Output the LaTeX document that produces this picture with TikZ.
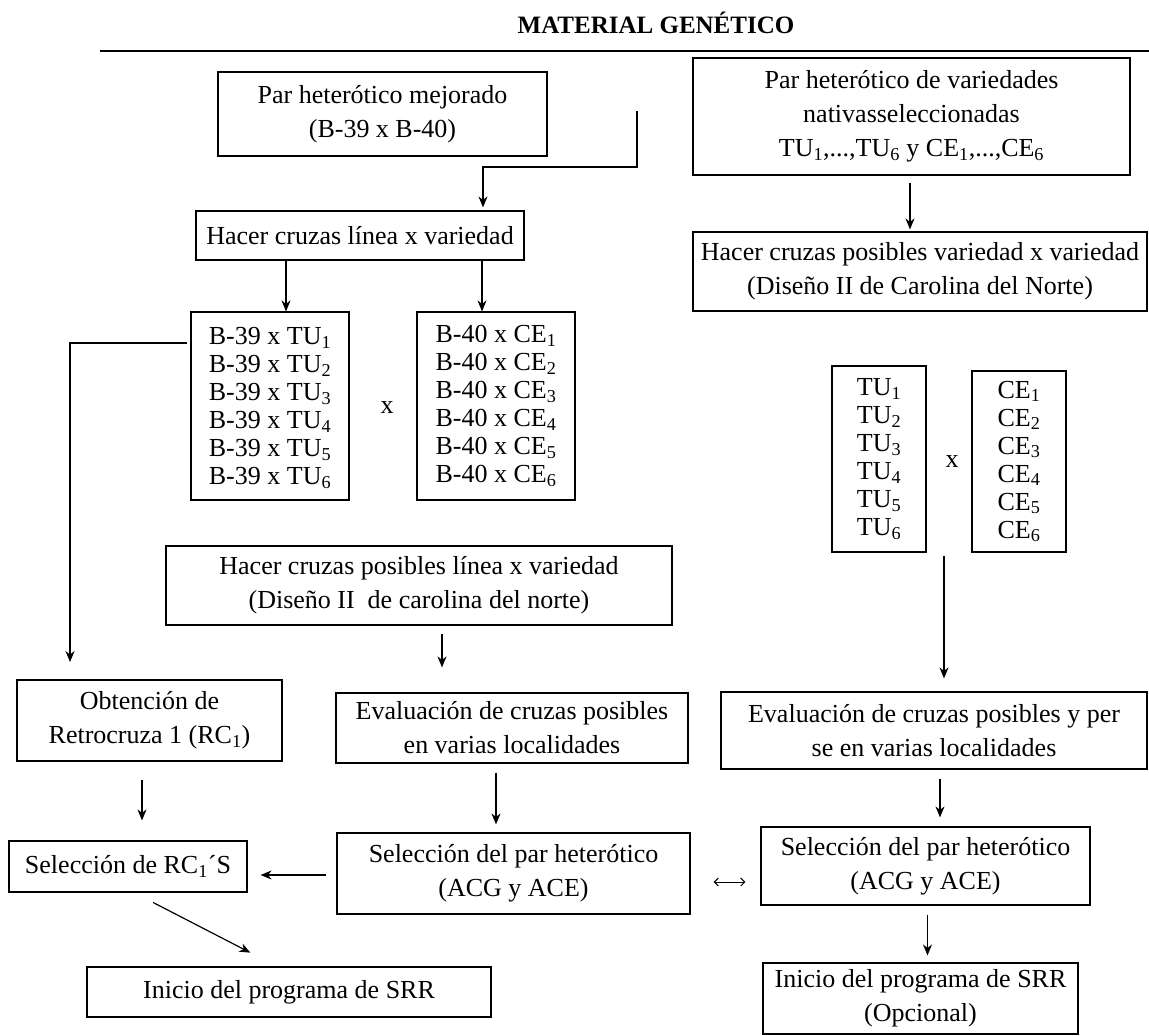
\documentclass[tikz,border=0pt]{standalone}
\usepackage{fontspec}
\setmainfont{Liberation Serif}
\usetikzlibrary{arrows.meta}

\begin{document}
\begin{tikzpicture}[x=1pt,y=-1pt,
  caja/.style={draw, line width=1.2pt, align=center, inner sep=0pt, font=\fontsize{26}{34}\selectfont},
  lista/.style={caja, align=left, font=\fontsize{26}{28}\selectfont},
  signo/.style={font=\fontsize{26}{28}\selectfont},
  flecha/.style={line width=1.2pt, -{Stealth[length=11pt,width=9pt]}},
  dobleflecha/.style={line width=1pt, {Straight Barb[length=4pt,width=8pt]}-{Straight Barb[length=4pt,width=8pt]}}]
\useasboundingbox (0,0) rectangle (1149,1036);
\node[font=\fontsize{25}{28}\selectfont\bfseries] (tit) at (656,23) {MATERIAL GENÉTICO};
\draw[line width=1.2pt] (100,51) -- (1149,51);
\node[caja, minimum width=329, minimum height=84] (pm) at (382.5,114) {Par heterótico mejorado\\(B-39 x B-40)};
\node[caja, minimum width=437, minimum height=117] (pn) at (911.5,116.5) {Par heterótico de variedades\\nativasseleccionadas\\TU\textsubscript{1},...,TU\textsubscript{6} y CE\textsubscript{1},...,CE\textsubscript{6}};
\node[caja, minimum width=328, minimum height=49] (hlv) at (360,235.5) {Hacer cruzas línea x variedad};
\node[caja, minimum width=454, minimum height=79] (hvv) at (920,271.5) {Hacer cruzas posibles variedad x variedad\\(Diseño II de Carolina del Norte)};
\coordinate (k1) at (637,111);
\coordinate (k2) at (483,167);
\draw[flecha, shorten >=3] (k1) |- (k2) -- (k2 |- hlv.north);
\draw[flecha, shorten <=7, shorten >=2] ([xshift=-1.5]pn.south) -- ([xshift=-1.5]pn.south |- hvv.north);
\node[lista, minimum width=158, minimum height=188, text depth=-12pt] (ltu) at (270,406) {B-39 x TU\textsubscript{1}\\B-39 x TU\textsubscript{2}\\B-39 x TU\textsubscript{3}\\B-39 x TU\textsubscript{4}\\B-39 x TU\textsubscript{5}\\B-39 x TU\textsubscript{6}};
\node[lista, minimum width=158, minimum height=188] (lce) at (496,406) {B-40 x CE\textsubscript{1}\\B-40 x CE\textsubscript{2}\\B-40 x CE\textsubscript{3}\\B-40 x CE\textsubscript{4}\\B-40 x CE\textsubscript{5}\\B-40 x CE\textsubscript{6}};
\node[signo] (x1) at (387,408) {x};
\draw[flecha] ([xshift=-74]hlv.south) -- ([xshift=-74]hlv.south |- ltu.north);
\draw[flecha] ([xshift=122]hlv.south) -- ([xshift=122]hlv.south |- lce.north);
\node[lista, minimum width=94, minimum height=186] (tu) at (879,459) {TU\textsubscript{1}\\TU\textsubscript{2}\\TU\textsubscript{3}\\TU\textsubscript{4}\\TU\textsubscript{5}\\TU\textsubscript{6}};
\node[lista, minimum width=94, minimum height=181] (ce) at (1019,461.5) {CE\textsubscript{1}\\CE\textsubscript{2}\\CE\textsubscript{3}\\CE\textsubscript{4}\\CE\textsubscript{5}\\CE\textsubscript{6}};
\node[signo] (x2) at (952,462) {x};
\node[caja, minimum width=506, minimum height=79] (hplv) at (419,585.5) {Hacer cruzas posibles línea x variedad\\(Diseño II\ \ de carolina del norte)};
\node[caja, minimum width=265, minimum height=81] (rc1) at (149.5,720.5) {Obtención de\\Retrocruza 1 (RC\textsubscript{1})};
\node[caja, minimum width=352, minimum height=70] (evm) at (512,728) {Evaluación de cruzas posibles\\en varias localidades};
\node[caja, minimum width=426, minimum height=77] (evr) at (934,730.5) {Evaluación de cruzas posibles y per\\se en varias localidades};
\coordinate (k3) at (70,662);
\draw[flecha] ([xshift=-3pt,yshift=63pt]ltu.west) -| (k3);
\coordinate (k4) at (944,556);
\draw[flecha, shorten >=13] (k4) -- (k4 |- evr.north);
\draw[flecha, shorten <=8, shorten >=25] ([xshift=23]hplv.south) -- ([xshift=23]hplv.south |- evm.north);
\node[caja, minimum width=238, minimum height=51] (src) at (128,866.5) {Selección de RC\textsubscript{1}´S};
\node[caja, minimum width=353, minimum height=81] (spm) at (513.5,873.5) {Selección del par heterótico\\(ACG y ACE)};
\node[caja, minimum width=329, minimum height=78] (spr) at (925.5,866) {Selección del par heterótico\\(ACG y ACE)};
\draw[flecha, shorten <=18, shorten >=20] ([xshift=-7.5]rc1.south) -- ([xshift=-7.5]rc1.south |- src.north);
\draw[flecha, shorten <=9, shorten >=8] ([xshift=-16]evm.south) -- ([xshift=-16]evm.south |- spm.north);
\draw[flecha, shorten <=9, shorten >=9] ([xshift=6]evr.south) -- ([xshift=6]evr.south |- spr.north);
\draw[flecha, shorten <=10, shorten >=13] ([yshift=-1.5]spm.west) -- ([yshift=-1.5]spm.west -| src.east);
\draw[dobleflecha, shorten <=23, shorten >=15] ([yshift=-8.5]spm.east) -- ([yshift=-8.5]spm.east -| spr.west);
\node[caja, minimum width=404, minimum height=50] (isl) at (289,992) {Inicio del programa de SRR};
\node[caja, minimum width=315, minimum height=71] (isr) at (920.5,998.5) {Inicio del programa de SRR\\(Opcional)};
\draw[flecha, shorten <=21.5, shorten >=30] ([xshift=6]src.south) -- ([xshift=-12]isl.north);
\draw[flecha, shorten <=9, shorten >=7] ([xshift=2]spr.south) -- ([xshift=2]spr.south |- isr.north);
\end{tikzpicture}
\end{document}
